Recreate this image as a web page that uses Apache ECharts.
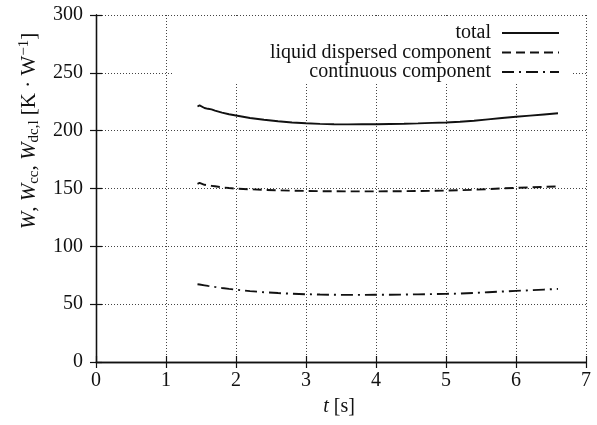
<!DOCTYPE html>
<html>
<head>
<meta charset="utf-8">
<script src="https://cdn.jsdelivr.net/npm/echarts@6/dist/echarts.min.js"></script>
<style>
  html, body { margin: 0; padding: 0; background: #fff; }
  #chart { width: 597px; height: 425px; }
</style>
</head>
<body>
<div id="chart"></div>
<script>
// Time samples [s]
const timeS = [1.45, 1.48, 1.50, 1.55, 1.60, 1.65, 1.67, 1.70, 1.80, 1.90,
  2.0, 2.2, 2.4, 2.6, 2.8, 3.0, 3.2, 3.4, 3.6, 3.8, 4.0, 4.2, 4.4, 4.6, 4.8,
  5.0, 5.2, 5.4, 5.6, 5.8, 6.0, 6.2, 6.4, 6.6];

// Thermal resistances [K/W]
const totalW = [220.9, 221.8, 220.3, 219.6, 218.9, 218.4, 219.0, 217.3, 215.6, 214.2,
  213.1, 211.0, 209.4, 208.1, 207.1, 206.4, 205.9, 205.6, 205.4, 205.5, 205.6, 205.8, 206.0, 206.3, 206.7,
  207.1, 207.7, 208.6, 209.8, 211.0, 212.0, 213.0, 214.0, 215.0];
const liquidW = [154.0, 154.8, 153.6, 153.2, 152.7, 152.3, 153.0, 151.9, 151.0, 150.4,
  149.9, 149.3, 148.8, 148.4, 148.1, 147.9, 147.7, 147.6, 147.5, 147.5, 147.5, 147.6, 147.7, 147.8, 148.0,
  148.2, 148.5, 148.9, 149.5, 150.1, 150.5, 151.0, 151.4, 151.8];
const continuousW = [67.2, 67.0, 66.7, 66.3, 65.8, 65.4, 65.2, 64.9, 64.0, 63.2,
  62.5, 61.3, 60.3, 59.6, 59.0, 58.6, 58.3, 58.1, 58.0, 58.0, 58.1, 58.2, 58.3, 58.5, 58.7,
  58.9, 59.2, 59.7, 60.3, 60.9, 61.5, 62.0, 62.6, 63.2];

const seriesNames = ['total', 'liquid dispersed component', 'continuous component'];
const xTicks = { min: 0, max: 7, step: 1 };
const yTicks = { min: 0, max: 300, step: 50 };

const FONT = '"Liberation Serif", "DejaVu Serif", serif';
const INK = '#111';

const pairs = (ys) => timeS.map((t, i) => [t, ys[i]]);

const chart = echarts.init(document.getElementById('chart'), null, { renderer: 'canvas' });

const gridLine = { show: true, lineStyle: { color: '#444', width: 1, type: [1, 2] } };
const tickIn = { show: true, inside: true, length: 6, lineStyle: { color: INK, width: 1.2 } };
const axisLineStyle = { show: true, lineStyle: { color: INK, width: 1.3 } };

function legendFor(name, top) {
  return {
    data: [name],
    right: 37,
    top: top,
    padding: 0,
    itemWidth: 57,
    itemHeight: 14,
    selectedMode: false,
    itemStyle: { opacity: 0 },
    textStyle: { fontFamily: FONT, fontSize: 20, color: INK, lineHeight: 20, padding: [0, 6, 0, 0] },
    align: 'right',
    orient: 'vertical',
    z: 6
  };
}

function lineSeries(name, ys, dash) {
  return {
    name: name,
    type: 'line',
    data: pairs(ys),
    showSymbol: false,
    symbol: 'none',
    smooth: false,
    lineStyle: { color: INK, width: 1.9, type: dash },
    itemStyle: { color: INK },
    emphasis: { disabled: true },
    z: 3
  };
}

chart.setOption({
  animation: false,
  backgroundColor: '#fff',
  grid: { left: 96, right: 11, top: 15, bottom: 63, containLabel: false },
  legend: [
    legendFor(seriesNames[0], 23),
    legendFor(seriesNames[1], 42.5),
    legendFor(seriesNames[2], 62)
  ],
  xAxis: [
    {
      type: 'value', position: 'bottom',
      min: xTicks.min, max: xTicks.max, interval: xTicks.step,
      axisLine: axisLineStyle, axisTick: tickIn, splitLine: gridLine,
      axisLabel: { fontFamily: FONT, fontSize: 20, color: INK, margin: 9 },
      z: 0
    },
    {
      type: 'value', position: 'top',
      min: xTicks.min, max: xTicks.max, interval: xTicks.step,
      axisLine: axisLineStyle, axisTick: tickIn, splitLine: { show: false },
      axisLabel: { show: false },
      z: 5
    }
  ],
  yAxis: [
    {
      type: 'value', position: 'left',
      min: yTicks.min, max: yTicks.max, interval: yTicks.step,
      axisLine: axisLineStyle, axisTick: tickIn, splitLine: gridLine,
      axisLabel: { fontFamily: FONT, fontSize: 20, color: INK, margin: 13 },
      z: 0
    },
    {
      type: 'value', position: 'right',
      min: yTicks.min, max: yTicks.max, interval: yTicks.step,
      axisLine: axisLineStyle, axisTick: tickIn, splitLine: { show: false },
      axisLabel: { show: false },
      z: 5
    }
  ],
  graphic: [
    {
      // white key box hiding the grid behind the legend
      type: 'rect', z: 1,
      shape: { x: 172, y: 16, width: 401, height: 66 },
      style: { fill: '#fff' }
    },
    {
      type: 'text', z: 10,
      x: 339, y: 407,
      style: {
        text: '{i|t} [s]',
        fontFamily: FONT, fontSize: 20, fill: INK,
        align: 'center', verticalAlign: 'middle',
        rich: {
          i: { fontFamily: FONT, fontSize: 20, fontStyle: 'italic', fill: INK }
        }
      }
    },
    {
      type: 'text', z: 10,
      x: 29, y: 131,
      rotation: Math.PI / 2,
      style: {
        text: '{i|W}, {i|W}{sub|cc}, {i|W}{sub|dc,l} [K · W{sup|−1}]',
        fontFamily: FONT, fontSize: 21, fill: INK, lineHeight: 25,
        align: 'center', verticalAlign: 'middle',
        rich: {
          i: { fontFamily: FONT, fontSize: 21, fontStyle: 'italic', fill: INK, lineHeight: 25 },
          sub: { fontFamily: FONT, fontSize: 15, fill: INK, lineHeight: 15, verticalAlign: 'bottom' },
          sup: { fontFamily: FONT, fontSize: 15, fill: INK, lineHeight: 15, verticalAlign: 'top' }
        }
      }
    }
  ],
  series: [
    Object.assign(lineSeries(seriesNames[0], totalW, 'solid'), { xAxisIndex: 0, yAxisIndex: 0 }),
    Object.assign(lineSeries(seriesNames[1], liquidW, [9, 5]), { xAxisIndex: 0, yAxisIndex: 0 }),
    Object.assign(lineSeries(seriesNames[2], continuousW, [12, 5, 2, 5]), { xAxisIndex: 0, yAxisIndex: 0 })
  ]
});
</script>
</body>
</html>
